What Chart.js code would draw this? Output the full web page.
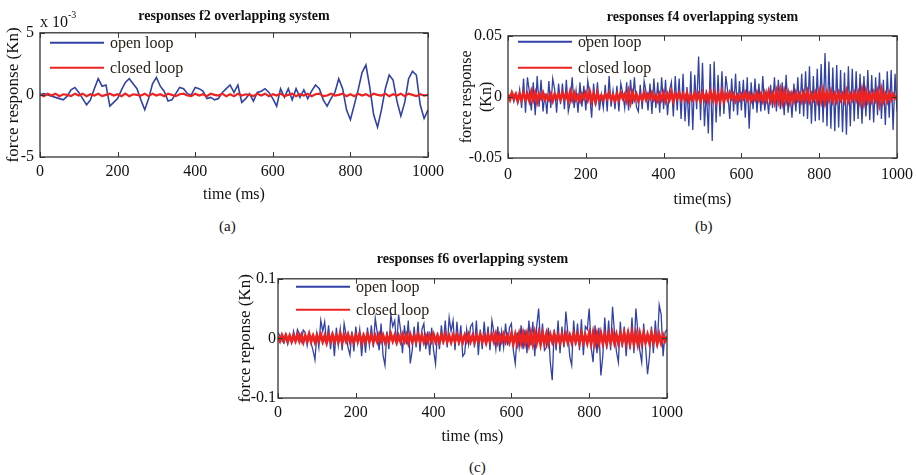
<!DOCTYPE html>
<html>
<head>
<meta charset="utf-8">
<script src="https://cdn.jsdelivr.net/npm/chart.js@4"></script>
<style>
  body { margin: 0; width: 916px; height: 475px; background: #fff; position: relative; overflow: hidden; font-family: "Liberation Serif", serif; color: #111; }
  canvas { position: absolute; }
  .note { position: absolute; font-size: 15px; line-height: 1; white-space: nowrap; color: #111; }
</style>
</head>
<body>
<canvas id="chart-a" width="460" height="210" style="left:0;top:0"></canvas>
<canvas id="chart-b" width="460" height="212" style="left:455px;top:0"></canvas>
<canvas id="chart-c" width="467" height="208" style="left:230px;top:240px"></canvas>
<div class="note" style="left:40px;top:14px;font-size:16px">x 10<span style="font-size:10px;position:relative;top:-9px">-3</span></div>
<div class="note" style="left:219px;top:219px">(a)</div>
<div class="note" style="left:695px;top:219px">(b)</div>
<div class="note" style="left:469px;top:460px">(c)</div>
<script>
// axis ticks (ms)
const timeTicks = [0, 200, 400, 600, 800, 1000];

// (a) f2 response, values in units of 1e-3 Kn, one sample every 10 ms
const openA = [0.0, 0.1, 0.0, -0.1, -0.2, -0.3, -0.4, -0.1, 0.4, 0.6,
  0.2, -0.3, -0.8, -0.4, 0.5, 1.3, 0.7, 0.8, -0.9, -0.6,
  -0.3, 0.4, 1.0, 1.3, 0.9, 0.5, -0.4, -1.2, -0.3, 0.9,
  1.4, 0.7, 0.3, -0.5, -0.4, 0.1, 0.6, 0.5, 0.1, 0.0,
  0.6, 0.5, 0.3, -0.3, -0.2, -0.4, -0.3, 0.2, 0.5, 0.8,
  0.2, 0.8, -0.6, -0.3, 0.1, -0.5, 0.2, 0.3, 0.5, 0.2,
  -0.3, -0.9, 0.5, -0.2, 0.5, -0.4, 0.5, -0.2, 0.4, -0.3,
  0.3, 0.8, 0.5, -0.4, -0.9, -0.3, 0.2, 1.3, 0.5, -1.2,
  -2.0, -0.8, 0.4, 1.8, 2.4, 0.6, -1.6, -2.6, -1.2, 0.5,
  1.6, 1.2, -0.5, -1.7, -0.6, 1.3, 1.9, 1.6, -0.8, -1.9,
  -1.2];
const closedA = [0.05, -0.1, 0.1, -0.05, 0.1, -0.1, 0.05, 0, -0.1, 0.1,
  -0.05, 0.1, -0.1, 0.05, -0.05, 0.1, -0.1, 0, 0.1, -0.05,
  0.05, -0.1, 0.1, -0.1, 0.05, 0, -0.05, 0.1, -0.1, 0.1,
  -0.05, 0.05, -0.1, 0.1, 0, -0.1, 0.05, 0.1, -0.05, -0.1,
  0.1, -0.05, 0.05, -0.1, 0.1, 0, -0.05, 0.1, -0.1, 0.05,
  -0.1, 0.1, -0.05, 0.05, 0, -0.1, 0.1, -0.05, 0.1, -0.1,
  0.05, -0.05, 0.1, -0.1, 0, 0.1, -0.1, 0.05, -0.05, 0.1,
  -0.1, 0.05, 0.1, -0.1, -0.05, 0.1, -0.05, 0, 0.1, -0.1,
  0.05, -0.1, 0.1, -0.05, 0.05, -0.1, 0.1, 0, -0.05, 0.1,
  -0.1, 0.05, -0.05, 0.1, -0.1, 0.1, 0, -0.1, 0.05, -0.05,
  0];

// (b) f4 response, Kn, one sample every 5 ms
const openB = [0.001, -0.002, 0.003, -0.004, 0.002, -0.005, 0.006, -0.009, 0.015, -0.013,
  0.016, 0.004, -0.011, 0.012, -0.015, 0.017, -0.008, 0.014, -0.012, 0.003,
  -0.014, 0.013, -0.009, 0.015, 0.006, -0.013, 0.011, -0.006, 0.011, -0.010,
  0.014, -0.012, -0.004, 0.016, -0.009, 0.005, -0.013, 0.012, -0.008, 0.009,
  -0.011, 0.013, 0.002, -0.017, 0.011, -0.007, 0.012, -0.011, 0.002, -0.009,
  0.010, -0.012, 0.017, -0.008, 0.005, -0.010, 0.009, -0.012, 0.011, 0.003,
  -0.009, 0.012, -0.011, 0.014, -0.006, 0.016, -0.008, -0.012, 0.010, -0.010,
  0.013, 0.004, -0.011, 0.011, -0.014, 0.015, -0.009, 0.012, -0.013, 0.016,
  -0.010, 0.014, -0.015, 0.005, 0.012, -0.016, 0.017, -0.011, 0.015, -0.018,
  0.019, -0.020, 0.008, -0.024, 0.021, -0.027, 0.018, -0.010, 0.033, -0.019,
  0.028, -0.024, 0.006, -0.030, 0.027, -0.036, 0.029, -0.021, 0.018, -0.016,
  0.021, -0.014, 0.017, 0.004, -0.018, 0.015, -0.012, 0.019, -0.015, 0.013,
  -0.011, 0.014, -0.017, 0.016, -0.026, 0.012, -0.010, 0.015, -0.013, 0.011,
  -0.012, 0.017, -0.011, 0.003, -0.014, 0.010, -0.009, 0.016, -0.012, 0.014,
  -0.010, 0.012, -0.015, 0.018, -0.013, 0.005, -0.017, 0.011, -0.012, 0.016,
  -0.014, 0.019, -0.016, 0.021, -0.018, 0.025, -0.022, 0.017, -0.020, 0.023,
  -0.019, 0.027, -0.021, 0.036, -0.024, 0.029, -0.026, 0.024, -0.028, 0.026,
  -0.025, 0.022, -0.029, 0.020, -0.031, 0.025, -0.024, 0.023, -0.020, 0.021,
  -0.018, 0.019, -0.022, 0.017, -0.016, 0.022, -0.019, 0.018, -0.021, 0.016,
  -0.015, 0.020, -0.018, 0.014, -0.023, 0.021, -0.017, 0.022, -0.027, 0.019,
  -0.012];
const closedB = [0.002, -0.002, 0.003, -0.001, 0.002, -0.003, 0.002, -0.002, 0.003, -0.002,
  0.002, -0.003, 0.004, -0.002, 0.003, -0.004, 0.002, -0.001, 0.003, -0.002,
  0.001, -0.002, 0.002, -0.003, 0.002, -0.001, 0.002, -0.002, 0.003, -0.001,
  0.002, -0.003, 0.004, -0.002, 0.003, -0.002, 0.001, -0.003, 0.002, -0.001,
  0.003, -0.002, 0.004, -0.003, 0.002, -0.004, 0.003, -0.002, 0.001, -0.002,
  0.002, -0.001, 0.003, -0.002, 0.001, -0.003, 0.002, -0.002, 0.003, -0.001,
  0.002, -0.003, 0.004, -0.004, 0.003, -0.002, 0.002, -0.003, 0.001, -0.002,
  0.003, -0.002, 0.002, -0.001, 0.003, -0.002, 0.001, -0.003, 0.002, -0.002,
  0.003, -0.003, 0.002, -0.002, 0.004, -0.003, 0.002, -0.001, 0.003, -0.002,
  0.002, -0.002, 0.003, -0.003, 0.001, -0.002, 0.003, -0.002, 0.002, -0.003,
  0.003, -0.002, 0.002, -0.003, 0.004, -0.002, 0.003, -0.004, 0.002, -0.003,
  0.004, -0.003, 0.002, -0.002, 0.003, -0.001, 0.002, -0.003, 0.001, -0.002,
  0.002, -0.001, 0.003, -0.002, 0.002, -0.003, 0.001, -0.002, 0.003, -0.002,
  0.002, -0.003, 0.003, -0.002, 0.004, -0.003, 0.002, -0.004, 0.004, -0.003,
  0.005, -0.004, 0.004, -0.003, 0.003, -0.004, 0.002, -0.003, 0.003, -0.002,
  0.002, -0.003, 0.003, -0.002, 0.004, -0.003, 0.002, -0.002, 0.003, -0.003,
  0.004, -0.003, 0.005, -0.004, 0.003, -0.002, 0.004, -0.003, 0.002, -0.003,
  0.003, -0.002, 0.002, -0.003, 0.004, -0.003, 0.002, -0.002, 0.003, -0.002,
  0.003, -0.004, 0.005, -0.004, 0.004, -0.003, 0.002, -0.003, 0.003, -0.002,
  0.004, -0.005, 0.005, -0.003, 0.002, -0.003, 0.003, -0.002, 0.002, -0.001,
  0.001];

// (c) f6 response, Kn, one sample every 5 ms
const openC = [0.010, 0.004, -0.003, -0.008, 0.002, -0.010, 0.006, -0.006, 0.012, -0.004,
  0.015, 0.008, -0.005, 0.014, 0.010, -0.012, 0.006, -0.008, -0.020, -0.036,
  0.008, -0.015, 0.030, 0.012, 0.028, -0.010, 0.022, -0.018, 0.010, -0.030,
  0.018, -0.012, 0.016, -0.020, 0.025, 0.006, -0.015, -0.028, 0.012, -0.022,
  0.020, -0.008, 0.015, -0.030, 0.010, -0.024, 0.018, -0.012, 0.022, -0.015,
  0.034, 0.010, -0.020, 0.025, -0.028, -0.045, 0.012, -0.018, 0.040, 0.020,
  0.030, -0.012, 0.040, 0.015, -0.025, 0.022, -0.010, 0.030, -0.042, -0.020,
  0.020, -0.015, 0.028, -0.022, 0.015, 0.025, -0.018, 0.012, -0.028, 0.018,
  -0.020, -0.043, 0.010, -0.018, 0.022, -0.010, 0.030, -0.015, 0.035, 0.012,
  0.030, -0.020, 0.028, -0.012, 0.022, -0.030, -0.025, 0.015, -0.010, 0.020,
  0.025, -0.015, 0.030, -0.028, 0.015, -0.018, 0.028, -0.010, 0.020, -0.020,
  0.030, 0.010, -0.018, 0.020, -0.022, 0.012, -0.015, 0.025, -0.012, 0.018,
  0.025, -0.020, -0.042, 0.010, -0.015, 0.022, -0.018, 0.015, -0.025, 0.030,
  -0.012, 0.028, -0.030, 0.020, 0.050, -0.010, 0.025, -0.020, -0.015, 0.018,
  -0.040, -0.070, 0.015, -0.020, 0.030, -0.025, 0.020, -0.015, 0.045, 0.010,
  -0.030, -0.045, 0.030, -0.012, 0.025, -0.020, 0.032, -0.028, 0.020, 0.015,
  0.050, -0.015, -0.040, 0.022, -0.025, 0.018, -0.062, -0.030, 0.035, -0.018,
  0.030, -0.020, 0.053, 0.010, -0.022, -0.040, 0.028, -0.015, 0.020, -0.030,
  0.015, -0.018, 0.035, -0.025, 0.050, 0.012, -0.020, -0.040, 0.025, -0.015,
  -0.060, -0.030, 0.020, -0.025, 0.030, -0.015, 0.056, 0.040, -0.030, 0.010,
  0.015];
const closedC = [0.003, -0.004, 0.005, -0.003, 0.005, -0.004, 0.004, -0.005, 0.004, -0.004,
  0.006, -0.004, 0.005, -0.006, 0.004, -0.004, 0.007, -0.005, 0.004, -0.006,
  0.005, -0.004, 0.006, -0.005, 0.004, -0.007, 0.005, -0.004, 0.006, -0.005,
  0.004, -0.005, 0.007, -0.006, 0.005, -0.004, 0.006, -0.005, 0.004, -0.006,
  0.005, -0.004, 0.006, -0.007, 0.004, -0.005, 0.006, -0.004, 0.005, -0.006,
  0.004, -0.005, 0.006, -0.004, 0.005, -0.006, 0.004, -0.005, 0.007, -0.004,
  0.005, -0.006, 0.004, -0.005, 0.006, -0.004, 0.005, -0.007, 0.006, -0.005,
  0.004, -0.005, 0.006, -0.004, 0.005, -0.006, 0.004, -0.005, 0.005, -0.004,
  0.006, -0.005, 0.004, -0.006, 0.005, -0.004, 0.007, -0.005, 0.004, -0.006,
  0.005, -0.004, 0.006, -0.005, 0.004, -0.006, 0.005, -0.004, 0.006, -0.005,
  0.004, -0.006, 0.005, -0.004, 0.006, -0.005, 0.004, -0.007, 0.005, -0.004,
  0.006, -0.005, 0.007, -0.006, 0.005, -0.004, 0.006, -0.005, 0.004, -0.006,
  0.007, -0.008, 0.006, -0.008, 0.007, -0.007, 0.008, -0.007, 0.007, -0.009,
  0.008, -0.008, 0.009, -0.007, 0.008, -0.009, 0.008, -0.007, 0.007, -0.008,
  0.006, -0.005, 0.007, -0.006, 0.005, -0.007, 0.006, -0.005, 0.007, -0.006,
  0.005, -0.006, 0.007, -0.005, 0.006, -0.007, 0.008, -0.006, 0.005, -0.007,
  0.008, -0.008, 0.009, -0.008, 0.007, -0.008, 0.008, -0.007, 0.006, -0.008,
  0.007, -0.006, 0.008, -0.007, 0.006, -0.008, 0.007, -0.006, 0.008, -0.007,
  0.008, -0.008, 0.009, -0.008, 0.008, -0.009, 0.008, -0.007, 0.008, -0.006,
  0.006, -0.007, 0.008, -0.006, 0.007, -0.008, 0.006, -0.007, 0.005, -0.004,
  0.003];

const serif = '"Liberation Serif", "Times New Roman", serif';
const blue = '#3141a6';
const red = '#ec2320';

// box round the plot, inward ticks and the legend inside the box (matlab style)
const boxPlugin = {
  id: 'box',
  afterDatasetsDraw(chart, args, opts) {
    const { ctx, chartArea: a, scales: { x, y } } = chart;
    ctx.save();
    ctx.strokeStyle = '#333';
    ctx.lineWidth = 1.3;
    ctx.strokeRect(a.left, a.top, a.width, a.height);
    ctx.lineWidth = 1;
    ctx.beginPath();
    x.ticks.forEach(t => {
      const px = Math.round(x.getPixelForValue(t.value)) + 0.5;
      ctx.moveTo(px, a.bottom); ctx.lineTo(px, a.bottom - 5);
      ctx.moveTo(px, a.top); ctx.lineTo(px, a.top + 5);
    });
    y.ticks.forEach(t => {
      const py = Math.round(y.getPixelForValue(t.value)) + 0.5;
      ctx.moveTo(a.left, py); ctx.lineTo(a.left + 5, py);
      ctx.moveTo(a.right, py); ctx.lineTo(a.right - 5, py);
    });
    ctx.stroke();

    // legend
    ctx.font = '16px ' + serif;
    ctx.textBaseline = 'middle';
    chart.data.datasets.forEach((d, i) => {
      const ly = a.top + opts.y + i * opts.gap;
      ctx.strokeStyle = d.borderColor;
      ctx.lineWidth = 2;
      ctx.beginPath();
      ctx.moveTo(a.left + opts.x, ly);
      ctx.lineTo(a.left + opts.x + 54, ly);
      ctx.stroke();
      ctx.fillStyle = '#2b2118';
      ctx.fillText(d.label, a.left + opts.x + 60, ly + 1);
    });
    ctx.restore();
  }
};

function makePanel(id, p) {
  const times = p.open.map((_, i) => i * p.step);
  return new Chart(document.getElementById(id), {
    type: 'line',
    data: {
      labels: times,
      datasets: [
        { label: 'open loop', data: p.open, borderColor: blue, borderWidth: p.blueWidth, order: 1 },
        { label: 'closed loop', data: p.closed, borderColor: red, borderWidth: p.redWidth, order: 0 }
      ]
    },
    options: {
      responsive: false,
      animation: false,
      layout: { padding: p.padding },
      elements: { point: { radius: 0 }, line: { tension: 0 } },
      plugins: {
        legend: { display: false },
        tooltip: { enabled: false },
        title: {
          display: true, text: p.title, fullSize: false, color: '#111',
          font: { family: serif, size: 14, weight: 'bold' },
          padding: p.titlePad
        },
        box: p.legend
      },
      scales: {
        x: {
          type: 'linear', min: 0, max: 1000,
          afterBuildTicks: s => { s.ticks = timeTicks.map(v => ({ value: v })); },
          ticks: { padding: p.xTickPad, color: '#111', font: { family: serif, size: 16 }, maxRotation: 0, autoSkip: false, callback: v => String(v) },
          grid: { display: false, drawTicks: false },
          border: { display: false },
          title: { display: true, text: p.xTitle, color: '#111', font: { family: serif, size: 16 }, padding: { top: 0, bottom: p.xTitlePad } },
          afterFit: s => { s.height = p.xHeight; s.paddingLeft = 0; s.paddingRight = 0; }
        },
        y: {
          min: p.yMin, max: p.yMax,
          afterBuildTicks: s => { s.ticks = p.yTicks.map(v => ({ value: v })); },
          ticks: { padding: p.yTickPad, color: '#111', font: { family: serif, size: 16 }, callback: v => String(v) },
          grid: { display: false, drawTicks: false },
          border: { display: false },
          title: { display: true, text: p.yTitle, color: '#111', font: { family: serif, size: p.yTitleSize, lineHeight: p.yTitleLh }, padding: { top: p.yTitlePad, bottom: 0 } },
          afterFit: s => { s.width = p.yWidth; s.paddingTop = 0; s.paddingBottom = 0; }
        }
      }
    },
    plugins: [boxPlugin]
  });
}

makePanel('chart-a', {
  open: openA, closed: closedA, step: 10, blueWidth: 1.6, redWidth: 2.2,
  title: 'responses f2 overlapping system',
  padding: { top: 4, left: 0, right: 32, bottom: 0 }, titlePad: { top: 4, bottom: 8 },
  xTitle: 'time (ms)', xHeight: 53, xTickPad: 5, xTitlePad: 6,
  yMin: -5, yMax: 5, yTicks: [-5, 0, 5],
  yTitle: 'force response (Kn)', yTitleSize: 17, yTitleLh: 1.2, yTitlePad: 3, yWidth: 40, yTickPad: 6,
  legend: { x: 10, y: 10, gap: 25 }
});

makePanel('chart-b', {
  open: openB, closed: closedB, step: 5, blueWidth: 1.3, redWidth: 3,
  title: 'responses f4 overlapping system',
  padding: { top: 4, left: 0, right: 18, bottom: 0 }, titlePad: { top: 5, bottom: 10 },
  xTitle: 'time(ms)', xHeight: 54, xTickPad: 7, xTitlePad: 3,
  yMin: -0.05, yMax: 0.05, yTicks: [-0.05, 0, 0.05],
  yTitle: ['force response', '(Kn)'], yTitleSize: 16, yTitleLh: 1.25, yTitlePad: 2, yWidth: 53, yTickPad: 6,
  legend: { x: 10, y: 6, gap: 26 }
});

makePanel('chart-c', {
  open: openC, closed: closedC, step: 5, blueWidth: 1.3, redWidth: 3,
  title: 'responses f6 overlapping system',
  padding: { top: 4, left: 0, right: 30, bottom: 0 }, titlePad: { top: 7, bottom: 11 },
  xTitle: 'time (ms)', xHeight: 50, xTickPad: 5, xTitlePad: 2,
  yMin: -0.1, yMax: 0.1, yTicks: [-0.1, 0, 0.1],
  yTitle: 'force reponse (Kn)', yTitleSize: 17, yTitleLh: 1.2, yTitlePad: 5, yWidth: 48, yTickPad: 2,
  legend: { x: 18, y: 8, gap: 23 }
});
</script>
</body>
</html>
